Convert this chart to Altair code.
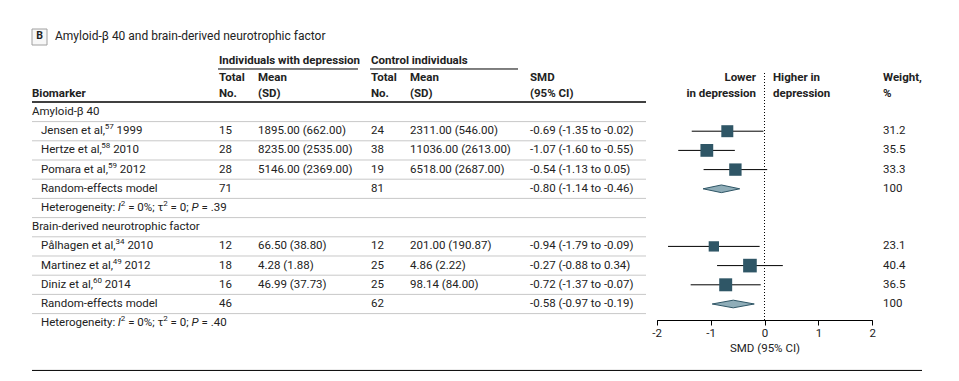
import altair as alt
import pandas as pd

# ---------------- data ----------------
group_names = ["Amyloid-β 40", "Brain-derived neurotrophic factor"]
study_authors = ["Jensen et al,", "Hertze et al,", "Pomara et al,",
                 "Pålhagen et al,", "Martinez et al,", "Diniz et al,"]
study_refs = ["57", "58", "59", "34", "49", "60"]
study_years = ["1999", "2010", "2012", "2010", "2012", "2014"]
study_group = [0, 0, 0, 1, 1, 1]
dep_n = [15, 28, 28, 12, 18, 16]
dep_mean = [1895.00, 8235.00, 5146.00, 66.50, 4.28, 46.99]
dep_sd = [662.00, 2535.00, 2369.00, 38.80, 1.88, 37.73]
ctrl_n = [24, 38, 19, 12, 25, 25]
ctrl_mean = [2311.00, 11036.00, 6518.00, 201.00, 4.86, 98.14]
ctrl_sd = [546.00, 2613.00, 2687.00, 190.87, 2.22, 84.00]
smd = [-0.69, -1.07, -0.54, -0.94, -0.27, -0.72]
smd_lo = [-1.35, -1.60, -1.13, -1.79, -0.88, -1.37]
smd_hi = [-0.02, -0.55, 0.05, -0.09, 0.34, -0.07]
weight = [31.2, 35.5, 33.3, 23.1, 40.4, 36.5]
pooled_dep_n = [71, 46]
pooled_ctrl_n = [81, 62]
pooled_smd = [-0.80, -0.58]
pooled_lo = [-1.14, -0.97]
pooled_hi = [-0.46, -0.19]
pooled_weight = [100, 100]
het_i2 = ["0%", "0%"]
het_tau2 = ["0", "0"]
het_p = [".39", ".40"]
axis_ticks = [-2, -1, 0, 1, 2]

# ---------------- style / layout ----------------
FONT = "Roboto"
FS = 11.5
SUP_FS = 8
TXT = "#222222"
SQ = "#2f5666"
DIA = "#8fadb8"
W, H = 943, 365
Y_SCALE = alt.Scale(domain=[-5.4167, 13.5938], range=[0, H], nice=False, zero=False)
X_SCALE = alt.Scale(domain=[-2, 2], range=[648.7, 864.3], nice=False, zero=False)
AX = alt.Axis(values=axis_ticks, title="SMD (95% CI)", offset=-53, grid=False,
              domainColor="#000", domainWidth=1, tickColor="#000", tickSize=5, tickWidth=1,
              labelFont=FONT, labelFontSize=FS, labelColor=TXT, labelPadding=2,
              labelExpr="'' + datum.value", labelFlush=False,
              titleFont=FONT, titleFontSize=FS, titleFontWeight="normal", titleColor=TXT,
              titlePadding=4)
ROWS_PER_GROUP = 6
X_BIOM, X_STUDY = 24, 33
X_DN, X_DM, X_CN, X_CM, X_SMD, X_W = 211, 250, 363, 402, 522, 875
X_LOWER, X_HIGHER = 748, 765
TABLE_L, TABLE_R = 24, 638
DIAMOND_HALF = 0.2

# approximate Roboto advance widths (em) used to place superscripts / italics inline
CW = {" ": .248, ",": .192, "-": .27, ".": .257, ":": .237, ";": .211, "=": .549, "%": .715,
      "a": .544, "e": .528, "g": .559, "h": .551, "i": .243, "l": .243, "m": .876, "n": .552,
      "o": .558, "r": .339, "s": .517, "t": .327, "y": .474, "z": .495, "å": .544, "τ": .52,
      "D": .655, "H": .697, "I": .268, "J": .53, "M": .876, "P": .631}


def tw(s, size):
    return sum(CW.get(c, .5615) for c in s) * size


# ---------------- tables ----------------
recs, rich = [], []


def add_rich(r, segs):
    x = X_STUDY
    for text, style in segs:
        size = SUP_FS if style == "sup" else FS
        body = text.lstrip(" ")
        x += tw(text[:len(text) - len(body)], size)
        rich.append(dict(r=r, px=x, t=body, style=style))
        x += tw(body, size)


for g in range(len(group_names)):
    base = g * ROWS_PER_GROUP
    recs.append(dict(r=base, kind="group", name=group_names[g], dn="", dm="", cn="", cm="", s="", w=""))
    k = 0
    for i in range(len(study_authors)):
        if study_group[i] != g:
            continue
        k += 1
        recs.append(dict(r=base + k, kind="study", name="", dn=str(dep_n[i]),
                         dm=f"{dep_mean[i]:.2f} ({dep_sd[i]:.2f})", cn=str(ctrl_n[i]),
                         cm=f"{ctrl_mean[i]:.2f} ({ctrl_sd[i]:.2f})",
                         s=f"{smd[i]:.2f} ({smd_lo[i]:.2f} to {smd_hi[i]:.2f})", w=f"{weight[i]:.1f}"))
        add_rich(base + k, [(study_authors[i], "n"), (study_refs[i], "sup"), (" " + study_years[i], "n")])
    recs.append(dict(r=base + 4, kind="pooled", name="Random-effects model", dn=str(pooled_dep_n[g]), dm="",
                     cn=str(pooled_ctrl_n[g]), cm="",
                     s=f"{pooled_smd[g]:.2f} ({pooled_lo[g]:.2f} to {pooled_hi[g]:.2f})",
                     w=str(pooled_weight[g])))
    add_rich(base + 5, [("Heterogeneity: ", "n"), ("I", "it"), ("2", "sup"), (f" = {het_i2[g]}; τ", "n"),
                        ("2", "sup"), (f" = {het_tau2[g]}; ", "n"), ("P", "it"), (f" = {het_p[g]}", "n")])
rows = pd.DataFrame(recs)
rich = pd.DataFrame(rich)

forest = pd.DataFrame(dict(
    r=[g * ROWS_PER_GROUP + 1 + [j for j in range(len(study_group)) if study_group[j] == g].index(i)
       for i, g in enumerate(study_group)],
    smd=smd, lo=smd_lo, hi=smd_hi, weight=weight))

dia = []
for g in range(len(group_names)):
    rc = g * ROWS_PER_GROUP + 4
    dia += [dict(grp=g, vx=pooled_lo[g], y1=rc, y2=rc),
            dict(grp=g, vx=pooled_smd[g], y1=rc - DIAMOND_HALF, y2=rc + DIAMOND_HALF),
            dict(grp=g, vx=pooled_hi[g], y1=rc, y2=rc)]
dia = pd.DataFrame(dia)

seps = pd.DataFrame({"r": [v + 0.5 for v in range(len(group_names) * ROWS_PER_GROUP - 1)]})
one = pd.DataFrame({"k": [0]})


def yd(r):
    return alt.YDatum(r, scale=Y_SCALE, axis=None)


def hdr(text, x, r, align="left", bold=True, size=FS):
    return alt.Chart(one).mark_text(text=text, align=align, baseline="middle", font=FONT, fontSize=size,
                                    fontWeight="bold" if bold else "normal", color=TXT
                                    ).encode(x=alt.value(x), y=yd(r))


def hline(x1, x2, r, color="#000", width=1.0):
    return alt.Chart(one).mark_rule(color=color, strokeWidth=width).encode(
        x=alt.value(x1), x2=alt.value(x2), y=yd(r))


layers = []
# row separators
layers.append(alt.Chart(seps).mark_rule(color="#c8c8c8", strokeWidth=1).encode(
    x=alt.value(TABLE_L), x2=alt.value(TABLE_R), y=alt.Y("r:Q", scale=Y_SCALE, axis=None)))
layers.append(hline(TABLE_L, TABLE_R, -0.52, width=1.5))
layers.append(hline(210, 350, -2.24))
layers.append(hline(362, 510, -2.24))
layers.append(hline(TABLE_L, 914, 13.46))

# title
layers.append(alt.Chart(one).mark_rect(fill="#f7f7f7", stroke="#a0a0a0", strokeWidth=1).encode(
    x=alt.value(24), x2=alt.value(39), y=alt.value(21), y2=alt.value(37)))
layers.append(hdr("B", 31.5, -3.96, align="center", size=10.5))
layers.append(hdr("Amyloid-β 40 and brain-derived neurotrophic factor", 47, -3.96, bold=False, size=12))

# headers
L1, L2 = -1.745, -0.94
layers += [
    hdr("Individuals with depression", X_DN, -2.66),
    hdr("Control individuals", X_CN, -2.66),
    hdr("Total", X_DN, L1), hdr("Mean", X_DM, L1), hdr("Total", X_CN, L1), hdr("Mean", X_CM, L1),
    hdr("SMD", X_SMD, L1), hdr("Lower", X_LOWER, L1, align="right"), hdr("Higher in", X_HIGHER, L1),
    hdr("Weight,", X_W, L1),
    hdr("Biomarker", X_BIOM, L2), hdr("No.", X_DN, L2), hdr("(SD)", X_DM, L2), hdr("No.", X_CN, L2),
    hdr("(SD)", X_CM, L2), hdr("(95% CI)", X_SMD, L2), hdr("in depression", X_LOWER, L2, align="right"),
    hdr("depression", X_HIGHER, L2), hdr("%", X_W, L2),
]

# table body
ry = alt.Y("r:Q", scale=Y_SCALE, axis=None)
base_txt = alt.Chart(rows).mark_text(align="left", baseline="middle", font=FONT, fontSize=FS, color=TXT)
layers.append(base_txt.transform_filter("datum.kind == 'group'").encode(x=alt.value(X_BIOM), y=ry, text="name:N"))
layers.append(base_txt.transform_filter("datum.kind == 'pooled'").encode(x=alt.value(X_STUDY), y=ry, text="name:N"))
for col, xx in [("dn", X_DN), ("dm", X_DM), ("cn", X_CN), ("cm", X_CM), ("s", X_SMD), ("w", X_W)]:
    layers.append(base_txt.encode(x=alt.value(xx), y=ry, text=f"{col}:N"))

rx = alt.X("px:Q", scale=None, axis=None)
rich_base = alt.Chart(rich)
layers.append(rich_base.transform_filter("datum.style == 'n'").mark_text(
    align="left", baseline="middle", font=FONT, fontSize=FS, color=TXT).encode(x=rx, y=ry, text="t:N"))
layers.append(rich_base.transform_filter("datum.style == 'it'").mark_text(
    align="left", baseline="middle", font=FONT, fontSize=FS, fontStyle="italic", color=TXT).encode(
    x=rx, y=ry, text="t:N"))
layers.append(rich_base.transform_filter("datum.style == 'sup'").mark_text(
    align="left", baseline="middle", font=FONT, fontSize=SUP_FS, dy=-4, color=TXT).encode(
    x=rx, y=ry, text="t:N"))

# forest
layers.append(alt.Chart(pd.DataFrame({"z": [0]})).mark_rule(color="#000", strokeWidth=1, strokeDash=[1, 2]).encode(
    x=alt.X("z:Q", scale=X_SCALE, axis=AX), y=yd(-2.03), y2=alt.Y2Datum(10.833)))
layers.append(alt.Chart(forest).mark_rule(color="#000", strokeWidth=1).encode(
    x=alt.X("lo:Q", scale=X_SCALE, axis=AX), x2="hi:Q", y=ry))
layers.append(alt.Chart(forest).mark_square(color=SQ, opacity=1).encode(
    x=alt.X("smd:Q", scale=X_SCALE, axis=AX), y=ry,
    size=alt.Size("weight:Q", scale=alt.Scale(domain=[0, 100], range=[0, 460]), legend=None)))
layers.append(alt.Chart(dia).mark_area(fill=DIA, stroke=SQ, strokeWidth=1, fillOpacity=1).encode(
    x=alt.X("vx:Q", scale=X_SCALE, axis=AX), y=alt.Y("y1:Q", scale=Y_SCALE, axis=None), y2="y2:Q",
    detail="grp:N"))

chart = alt.layer(*layers).properties(width=W, height=H, padding=0).configure_view(stroke=None)
chart.save("out.html", embed_options={"renderer": "svg", "actions": False})
